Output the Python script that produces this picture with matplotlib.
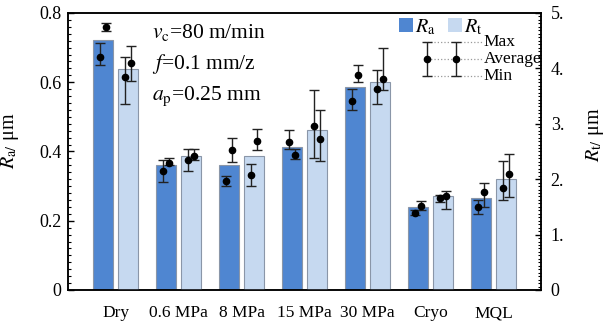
"""
Surface roughness Ra / Rt under different cooling conditions,
bars with two measured points (min / average / max) per bar.
"""

import numpy as np
import matplotlib
matplotlib.use("Agg")
import matplotlib.pyplot as plt
from matplotlib.patches import Patch
from matplotlib.ticker import MultipleLocator

plt.rcParams['font.family'] = ['Liberation Serif', 'DejaVu Serif']
plt.rcParams['mathtext.fontset'] = 'stix'

OUT_FILE = "out.png"

CONDITIONS = ["Dry", "0.6 MPa", "8 MPa", "15 MPa", "30 MPa", "Cryo", "MQL"]

# bar heights
RA_MEAN = [0.722, 0.361, 0.361, 0.414, 0.585, 0.239, 0.267]
RT_MEAN = [3.98, 2.41, 2.41, 2.88, 3.75, 1.70, 2.00]

# two measurements per bar: (avg, min, max), left point and right point
RA_LEFT_AVG = [0.674, 0.345, 0.315, 0.428, 0.547, 0.223, 0.241]
RA_LEFT_MIN = [0.650, 0.311, 0.301, 0.407, 0.521, 0.217, 0.219]
RA_LEFT_MAX = [0.712, 0.375, 0.330, 0.461, 0.581, 0.231, 0.260]
RA_RIGHT_AVG = [0.760, 0.368, 0.404, 0.391, 0.620, 0.243, 0.284]
RA_RIGHT_MIN = [0.749, 0.361, 0.371, 0.379, 0.602, 0.231, 0.241]
RA_RIGHT_MAX = [0.770, 0.380, 0.440, 0.408, 0.650, 0.258, 0.310]

RT_LEFT_AVG = [3.85, 2.35, 2.08, 2.96, 3.63, 1.66, 1.84]
RT_LEFT_MIN = [3.35, 2.15, 1.88, 2.38, 3.36, 1.59, 1.62]
RT_LEFT_MAX = [4.20, 2.54, 2.27, 3.61, 3.97, 1.71, 2.32]
RT_RIGHT_AVG = [4.10, 2.41, 2.69, 2.72, 3.80, 1.70, 2.09]
RT_RIGHT_MIN = [3.77, 2.35, 2.53, 2.32, 3.61, 1.46, 1.67]
RT_RIGHT_MAX = [4.40, 2.54, 2.91, 3.24, 4.37, 1.79, 2.45]

RA_TICKS = [0, 0.2, 0.4, 0.6, 0.8]
RA_TICK_LABELS = ["0", "0.2", "0.4", "0.6", "0.8"]
RT_TICKS = [0, 1, 2, 3, 4, 5]
RT_TICK_LABELS = ["0", "1.", "2.", "3.", "4.", "5."]

RA_COLOR = "#4f86d1"
RT_COLOR = "#c6d9f0"
EDGE_COLOR = "#8a96a8"


def draw_points(axis, xpos, avg, low, high):
    avg = np.array(avg)
    yerr = [avg - np.array(low), np.array(high) - avg]
    axis.errorbar(xpos, avg, yerr=yerr, fmt='o', color='black', ecolor='#222222',
                  markersize=4.5, elinewidth=1.0, capsize=3.5, capthick=1.0, zorder=5)


def plot_roughness():
    x = np.arange(len(CONDITIONS))
    width = 0.32
    off = 0.2
    dp = 0.05

    fig = plt.figure(figsize=(6.08, 3.24), dpi=100)
    ax = fig.add_axes([0.1123, 0.105, 0.7775, 0.855])
    ax2 = ax.twinx()

    ax.bar(x - off, RA_MEAN, width, color=RA_COLOR, edgecolor=EDGE_COLOR, linewidth=0.8, zorder=2)
    ax2.bar(x + off, RT_MEAN, width, color=RT_COLOR, edgecolor=EDGE_COLOR, linewidth=0.8, zorder=2)

    draw_points(ax, x - off - dp, RA_LEFT_AVG, RA_LEFT_MIN, RA_LEFT_MAX)
    draw_points(ax, x - off + dp, RA_RIGHT_AVG, RA_RIGHT_MIN, RA_RIGHT_MAX)
    draw_points(ax2, x + off - dp, RT_LEFT_AVG, RT_LEFT_MIN, RT_LEFT_MAX)
    draw_points(ax2, x + off + dp, RT_RIGHT_AVG, RT_RIGHT_MIN, RT_RIGHT_MAX)

    ax.set_xlim(-0.75, 6.75)
    ax.set_ylim(0, 0.8)
    ax2.set_ylim(0, 5)

    ax.set_xticks(x)
    ax.set_xticklabels(CONDITIONS, fontsize=12.5)
    ax.tick_params(axis='x', length=0, pad=11)

    ax.set_yticks(RA_TICKS)
    ax.set_yticklabels(RA_TICK_LABELS, fontsize=13)
    ax.yaxis.set_minor_locator(MultipleLocator(0.02))
    ax.tick_params(axis='y', which='major', direction='in', length=4, width=1, pad=5)
    ax.tick_params(axis='y', which='minor', direction='in', length=2, width=0.8)

    ax2.set_yticks(RT_TICKS)
    ax2.set_yticklabels(RT_TICK_LABELS, fontsize=13)
    ax2.yaxis.set_minor_locator(MultipleLocator(0.0625))
    ax2.tick_params(axis='y', which='major', direction='in', length=4, width=1, pad=7)
    ax2.tick_params(axis='y', which='minor', direction='in', length=2, width=0.8)

    for a in (ax, ax2):
        for s in a.spines.values():
            s.set_linewidth(1.1)

    ax.set_ylabel(r'$R_{\mathrm{a/}}$ μm', fontsize=14.5)
    ax.yaxis.set_label_coords(-0.1, 0.54)
    ax2.set_ylabel(r'$R_{\mathrm{t/}}$ μm', fontsize=14.5)
    ax2.yaxis.set_label_coords(1.09, 0.56)

    # cutting parameters
    ax.text(0.177, 0.93, r'$v_{\mathrm{c}}$=80 m/min', transform=ax.transAxes,
            fontsize=15.5, va='center', ha='left')
    ax.text(0.177, 0.815, r'$f$=0.1 mm/z', transform=ax.transAxes,
            fontsize=15.5, va='center', ha='left')
    ax.text(0.177, 0.70, r'$a_{\mathrm{p}}$=0.25 mm', transform=ax.transAxes,
            fontsize=15.5, va='center', ha='left')

    # legend for bars
    handles = [Patch(facecolor=RA_COLOR, edgecolor='none'),
               Patch(facecolor=RT_COLOR, edgecolor='none')]
    ax2.legend(handles, [r'$R_{\mathrm{a}}$', r'$R_{\mathrm{t}}$'], ncol=2, frameon=False,
               loc='upper left', bbox_to_anchor=(0.7, 0.985), borderpad=0, borderaxespad=0,
               handlelength=0.7, handleheight=0.7, handletextpad=0.1, columnspacing=0.6,
               fontsize=14.5)

    # legend for min / average / max points
    key_x = [0.7595, 0.820]
    key_y = {"Max": 0.894, "Average": 0.833, "Min": 0.773}
    for yy in key_y.values():
        ax2.plot([0.752, 0.876], [yy, yy], transform=ax2.transAxes, color='#999999',
                 linestyle=':', linewidth=0.9, clip_on=False, zorder=4)
    for xx in key_x:
        ax2.errorbar([xx], [key_y["Average"]],
                     yerr=[[key_y["Average"] - key_y["Min"]], [key_y["Max"] - key_y["Average"]]],
                     fmt='o', color='black', ecolor='#222222', markersize=4.5, elinewidth=1.0,
                     capsize=3.5, capthick=1.0, transform=ax2.transAxes, clip_on=False, zorder=6)
    for name, yy in key_y.items():
        ax2.text(0.879, yy, name, transform=ax2.transAxes, fontsize=12.5,
                 va='center', ha='left', zorder=6)

    fig.savefig(OUT_FILE, dpi=100)


if __name__ == "__main__":
    plot_roughness()
